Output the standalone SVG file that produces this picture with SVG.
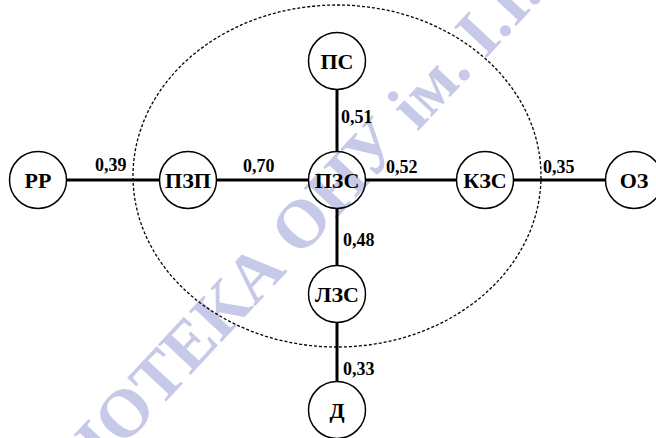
<svg xmlns="http://www.w3.org/2000/svg" width="656" height="438" viewBox="0 0 656 438">
<style>
.node circle{fill:none;stroke:#000;stroke-width:1.5}
.node text{font-family:"Liberation Serif",serif;font-weight:bold;font-size:22px;text-anchor:middle}
.edge{stroke:#000;stroke-width:3;fill:none}
.lbl{font-family:"Liberation Serif",serif;font-weight:bold;font-size:18px}
.wm{font-family:"Liberation Serif",serif;font-weight:bold;font-size:68px;fill:#c6c9e7}
</style>
<rect width="656" height="438" fill="#fff"/>
<text class="wm" transform="translate(-8,588) rotate(-47)">БІБЛІОТЕКА ОНУ ім. І.І.</text>
<ellipse cx="337" cy="176" rx="204" ry="171" fill="none" stroke="#000" stroke-width="1.3" stroke-dasharray="3,2"/>
<g id="connectors">
<line class="edge" x1="66" y1="180" x2="159" y2="180"/>
<line class="edge" x1="216" y1="180" x2="308" y2="180"/>
<line class="edge" x1="366" y1="180" x2="456" y2="180"/>
<line class="edge" x1="514" y1="180" x2="606" y2="180"/>
<line class="edge" x1="337" y1="90" x2="337" y2="151"/>
<line class="edge" x1="337" y1="209" x2="337" y2="265"/>
<line class="edge" x1="337" y1="323" x2="337" y2="382"/>
<text class="lbl" x="95" y="171">0,39</text>
<text class="lbl" x="243" y="172">0,70</text>
<text class="lbl" x="386" y="173">0,52</text>
<text class="lbl" x="543" y="173">0,35</text>
<text class="lbl" x="341" y="123">0,51</text>
<text class="lbl" x="343" y="246">0,48</text>
<text class="lbl" x="343" y="375">0,33</text>
</g>
<g id="n-rr" class="node"><circle cx="38" cy="180" r="28.5"/><text x="38" y="188">РР</text></g>
<g id="n-pzp" class="node"><circle cx="188" cy="180" r="28.5"/><text x="188" y="188">ПЗП</text></g>
<g id="n-pzs" class="node"><circle cx="337" cy="180" r="28.5"/><text x="337" y="188">ПЗС</text></g>
<g id="n-kzs" class="node"><circle cx="485" cy="180" r="28.5"/><text x="485" y="188">КЗС</text></g>
<g id="n-oz" class="node"><circle cx="634" cy="180" r="28.5"/><text x="634" y="188">ОЗ</text></g>
<g id="n-ps" class="node"><circle cx="337" cy="61" r="28.5"/><text x="337" y="69">ПС</text></g>
<g id="n-lzs" class="node"><circle cx="337" cy="294" r="28.5"/><text x="337" y="302">ЛЗС</text></g>
<g id="n-d" class="node"><circle cx="337" cy="410" r="28.5"/><text x="337" y="418">Д</text></g>
</svg>
